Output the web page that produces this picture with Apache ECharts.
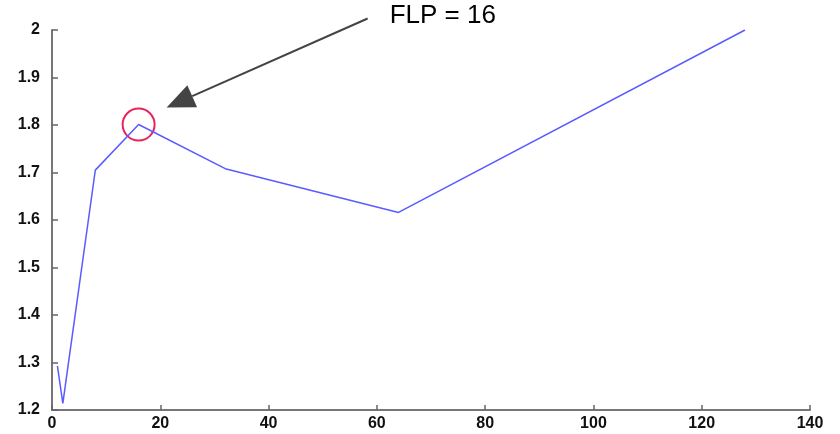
<!DOCTYPE html>
<html><head><meta charset="utf-8">
<script src="https://cdn.jsdelivr.net/npm/echarts@6/dist/echarts.min.js"></script>
<style>html,body{margin:0;padding:0;background:#fff}#c{width:840px;height:434px}</style>
</head><body><div id="c"></div>
<script>
const xValues = [1, 2, 8, 16, 32, 64, 128];
const yValues = [1.293, 1.214, 1.705, 1.801, 1.708, 1.616, 2.0];
const annotationText = 'FLP = 16';
const annotationPoint = [16, 1.801];

const chart = echarts.init(document.getElementById('c'));
const labelFont = {color:'#111', fontSize:16, fontFamily:'Liberation Sans, Arial, sans-serif', fontWeight:'bold'};
chart.setOption({
  animation:false,
  backgroundColor:'#fff',
  grid:{left:52, right:30, top:30, bottom:24, containLabel:false},
  xAxis:{type:'value', min:0, max:140, interval:20,
    axisLine:{lineStyle:{color:'#777', width:2}},
    axisTick:{inside:true, length:5, lineStyle:{color:'#666', width:1.5}},
    axisLabel:Object.assign({margin:6}, labelFont),
    splitLine:{show:false}},
  yAxis:{type:'value', min:1.2, max:2, interval:0.1,
    axisLine:{show:true, lineStyle:{color:'#777', width:2}},
    axisTick:{show:true, inside:true, length:6, lineStyle:{color:'#666', width:1.5}},
    axisLabel:Object.assign({margin:12, formatter:v=>String(+v.toFixed(1))}, labelFont),
    splitLine:{show:false}},
  series:[{type:'line', data:xValues.map((x,i)=>[x,yValues[i]]), showSymbol:false,
    lineStyle:{color:'#5b5bff', width:1.5}}]
});
const p = chart.convertToPixel({gridIndex:0}, annotationPoint);
const tip = [p[0]+28, p[1]-17];
const tail = [p[0]+229, p[1]-106];
const ang = Math.atan2(tail[1]-tip[1], tail[0]-tip[0]);
const hl = 28, hw = 12;
const bx = tip[0]+hl*Math.cos(ang), by = tip[1]+hl*Math.sin(ang);
const nx = -Math.sin(ang), ny = Math.cos(ang);
chart.setOption({graphic:[
  {type:'circle', shape:{cx:p[0], cy:p[1], r:16}, style:{fill:'none', stroke:'#e8245a', lineWidth:2}},
  {type:'line', shape:{x1:bx, y1:by, x2:tail[0], y2:tail[1]}, style:{stroke:'#444', lineWidth:2}},
  {type:'polygon', shape:{points:[tip,[bx+nx*hw,by+ny*hw],[bx-nx*hw,by-ny*hw]]}, style:{fill:'#444'}},
  {type:'text', x:tail[0]+22, y:tail[1]-3, style:{text:annotationText, fill:'#000', font:'26px Liberation Sans, Arial, sans-serif', textVerticalAlign:'middle'}}
]});
</script></body></html>
